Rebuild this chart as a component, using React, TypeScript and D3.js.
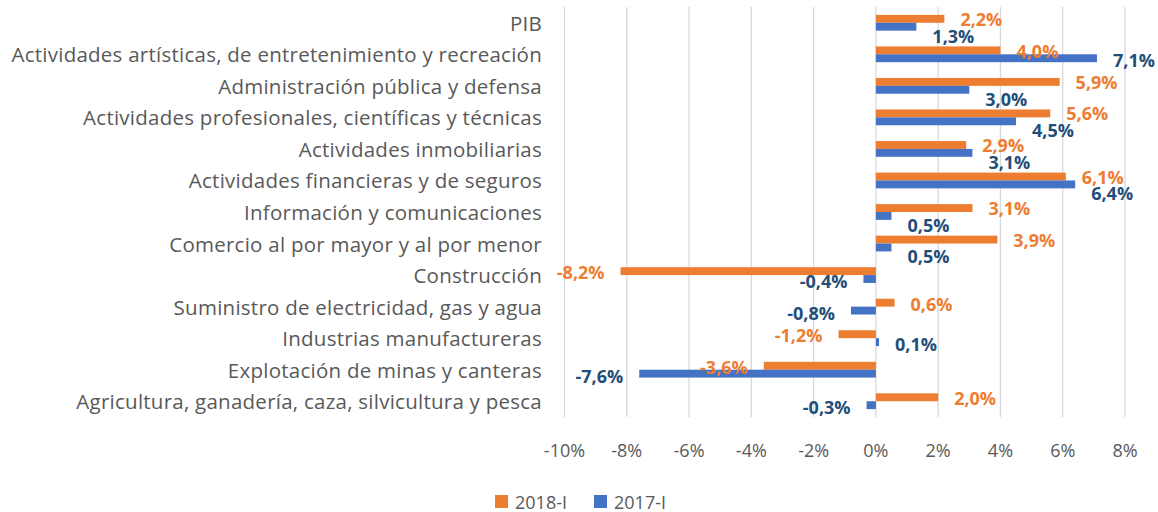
import * as d3 from "d3";

const categories = [
  "PIB",
  "Actividades artísticas, de entretenimiento y recreación",
  "Administración pública y defensa",
  "Actividades profesionales, científicas y técnicas",
  "Actividades inmobiliarias",
  "Actividades financieras y de seguros",
  "Información y comunicaciones",
  "Comercio al por mayor y al por menor",
  "Construcción",
  "Suministro de electricidad, gas y agua",
  "Industrias manufactureras",
  "Explotación de minas y canteras",
  "Agricultura, ganadería, caza, silvicultura y pesca",
];

const series2018 = [2.2, 4.0, 5.9, 5.6, 2.9, 6.1, 3.1, 3.9, -8.2, 0.6, -1.2, -3.6, 2.0];
const series2017 = [1.3, 7.1, 3.0, 4.5, 3.1, 6.4, 0.5, 0.5, -0.4, -0.8, 0.1, -7.6, -0.3];

const seriesNames = ["2018-I", "2017-I"];
const xTicks = [-10, -8, -6, -4, -2, 0, 2, 4, 6, 8];

const width = 1158;
const height = 512;

const barColor = { "2018-I": "#ED7D31", "2017-I": "#4472C4" };
const labelColor = { "2018-I": "#ED7D31", "2017-I": "#1F4E79" };

const FONT = "'Open Sans', sans-serif";
const LABEL_GAP = 16;
const LABEL_W = 42; // approx. width of a value label

export default function App() {
  const x = d3.scaleLinear().domain([-10, 8]).range([564.5, 1125]);
  const y = d3.scaleBand().domain(categories).range([7, 417]).padding(0);
  const ySub = d3
    .scaleBand()
    .domain(seriesNames)
    .range([0, y.bandwidth()])
    .paddingInner(0)
    .paddingOuter(1);

  const fmt = (v: number) => v.toFixed(1).replace(".", ",") + "%";

  const rows = categories.map((c, i) => ({
    cat: c,
    vals: [
      { key: "2018-I", value: series2018[i] },
      { key: "2017-I", value: series2017[i] },
    ],
  }));

  // push the 2017 label down when it would run into the 2018 label
  const labelShift = (i: number, key: string) => {
    const a = series2018[i];
    const b = series2017[i];
    const clash = a > 0 && b > 0 && x(b) + LABEL_GAP < x(a) + LABEL_GAP + LABEL_W;
    if (key !== "2017-I") return clash ? 0 : 1;
    return clash ? 9 : 2;
  };

  return (
    <svg
      width={width}
      height={height}
      style={{ position: "absolute", left: 0, top: 0, background: "#fff" }}
    >
      {/* gridlines */}
      {xTicks.map((t) => (
        <line
          key={t}
          x1={x(t)}
          x2={x(t)}
          y1={7}
          y2={417}
          stroke="#D9D9D9"
          strokeWidth={1.3}
        />
      ))}

      {/* tick labels */}
      {xTicks.map((t) => (
        <text
          key={"t" + t}
          x={x(t)}
          y={450}
          textAnchor="middle"
          dominantBaseline="central"
          fill="#595959"
          fontFamily={FONT}
          fontSize={18}
        >
          {t + "%"}
        </text>
      ))}

      {/* category labels */}
      {categories.map((c) => (
        <text
          key={c}
          x={542}
          y={y(c)! + y.bandwidth() / 2}
          textAnchor="end"
          dominantBaseline="central"
          fill="#595959"
          fontFamily={FONT}
          fontSize={20.5}
          letterSpacing={0.25}
        >
          {c}
        </text>
      ))}

      {/* bars */}
      {rows.map((r) =>
        r.vals.map((d) => (
          <rect
            key={r.cat + d.key}
            x={Math.min(x(0), x(d.value))}
            y={y(r.cat)! + ySub(d.key)!}
            width={Math.abs(x(d.value) - x(0))}
            height={ySub.bandwidth()}
            fill={barColor[d.key as keyof typeof barColor]}
          />
        ))
      )}

      {/* value labels */}
      {rows.map((r, i) =>
        r.vals.map((d) => {
          const pos = d.value >= 0;
          const cy = y(r.cat)! + ySub(d.key)! + ySub.bandwidth() / 2 + labelShift(i, d.key);
          return (
            <text
              key={"l" + r.cat + d.key}
              x={pos ? x(d.value) + LABEL_GAP : x(d.value) - LABEL_GAP}
              y={cy}
              textAnchor={pos ? "start" : "end"}
              dominantBaseline="central"
              fill={labelColor[d.key as keyof typeof labelColor]}
              fontFamily={FONT}
              fontWeight="bold"
              fontSize={18}
            >
              {fmt(d.value)}
            </text>
          );
        })
      )}

      {/* legend */}
      {seriesNames.map((s, i) => {
        const lx = 495 + i * 99;
        return (
          <g key={s}>
            <rect x={lx} y={495} width={13} height={13} fill={barColor[s as keyof typeof barColor]} />
            <text
              x={lx + 20}
              y={501.5}
              dominantBaseline="central"
              fill="#595959"
              fontFamily={FONT}
              fontSize={18}
            >
              {s}
            </text>
          </g>
        );
      })}
    </svg>
  );
}
